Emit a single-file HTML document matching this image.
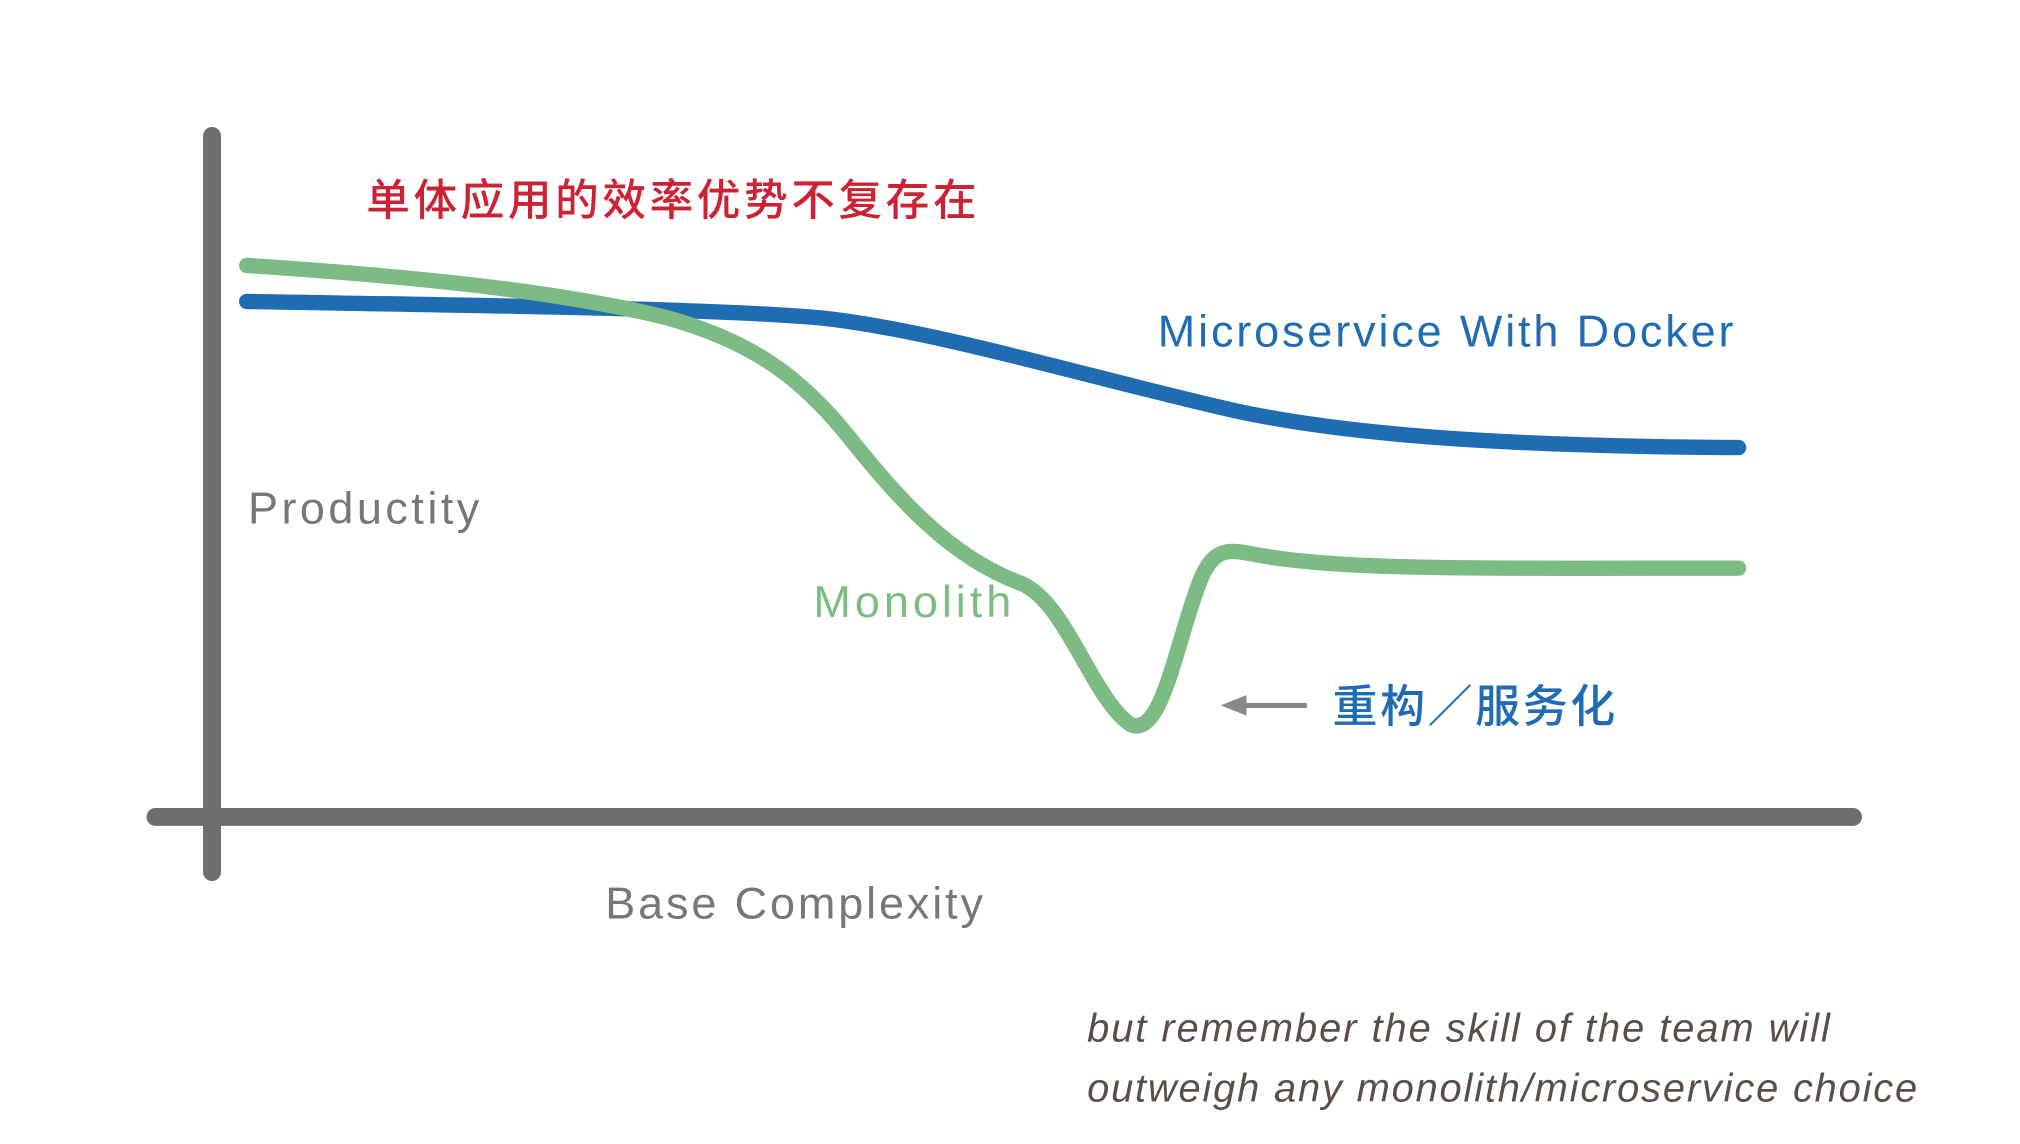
<!DOCTYPE html>
<html><head><meta charset="utf-8"><style>
html,body{margin:0;padding:0;background:#fff;width:2020px;height:1144px;overflow:hidden}
svg{display:block}
</style></head><body>
<svg width="2020" height="1144" viewBox="0 0 1572 892" preserveAspectRatio="none" xmlns="http://www.w3.org/2000/svg">
<rect width="1572" height="892" fill="#fff"/>
<line x1="165" y1="106" x2="165" y2="680" stroke="#6e6e6e" stroke-width="14" stroke-linecap="round"/>
<line x1="121" y1="637" x2="1442" y2="637" stroke="#6e6e6e" stroke-width="14" stroke-linecap="round"/>
<path d="M192,235 C350,238 550,240 640,248 C730,258 850,295 960,320 C1060,342 1200,348 1353,349" fill="none" stroke="#1f6cb3" stroke-width="12" stroke-linecap="round"/>
<path d="M192,207 C330,216 440,228 520,248 C580,265 620,290 660,340 C700,390 740,435 795,455 C830,470 850,545 880,565 C905,575 915,500 935,450 C945,428 955,428 975,432 C1040,445 1150,443 1353,443" fill="none" stroke="#7dbb84" stroke-width="12" stroke-linecap="round" stroke-linejoin="round"/>
<text x="285" y="168" font-family="'Liberation Sans','Noto Sans CJK SC',sans-serif" font-size="34" font-weight="500" fill="#cc2233" textLength="475">单体应用的效率优势不复存在</text>
<text x="901" y="270" font-family="'Liberation Sans',sans-serif" font-size="35" fill="#1f6cb3" textLength="448">Microservice With Docker</text>
<text x="193" y="408" font-family="'Liberation Sans',sans-serif" font-size="35" fill="#777" textLength="180">Productity</text>
<text x="633" y="481" font-family="'Liberation Sans',sans-serif" font-size="35" fill="#7dbb84" textLength="154">Monolith</text>
<text x="471" y="716" font-family="'Liberation Sans',sans-serif" font-size="35" fill="#777" textLength="294">Base Complexity</text>
<line x1="965" y1="550" x2="1017" y2="550" stroke="#888" stroke-width="4"/>
<polygon points="950,550 970,542 970,558" fill="#888"/>
<text x="1037" y="563" font-family="'Liberation Sans','Noto Sans CJK SC',sans-serif" font-size="35" font-weight="500" fill="#1f6cb3" textLength="220">重构／服务化</text>
<text x="846" y="812" font-family="'Liberation Sans',sans-serif" font-size="31" font-style="italic" fill="#5a4e48" textLength="578">but remember the skill of the team will</text>
<text x="846" y="859" font-family="'Liberation Sans',sans-serif" font-size="31" font-style="italic" fill="#5a4e48" textLength="646">outweigh any monolith/microservice choice</text>
</svg>
</body></html>
